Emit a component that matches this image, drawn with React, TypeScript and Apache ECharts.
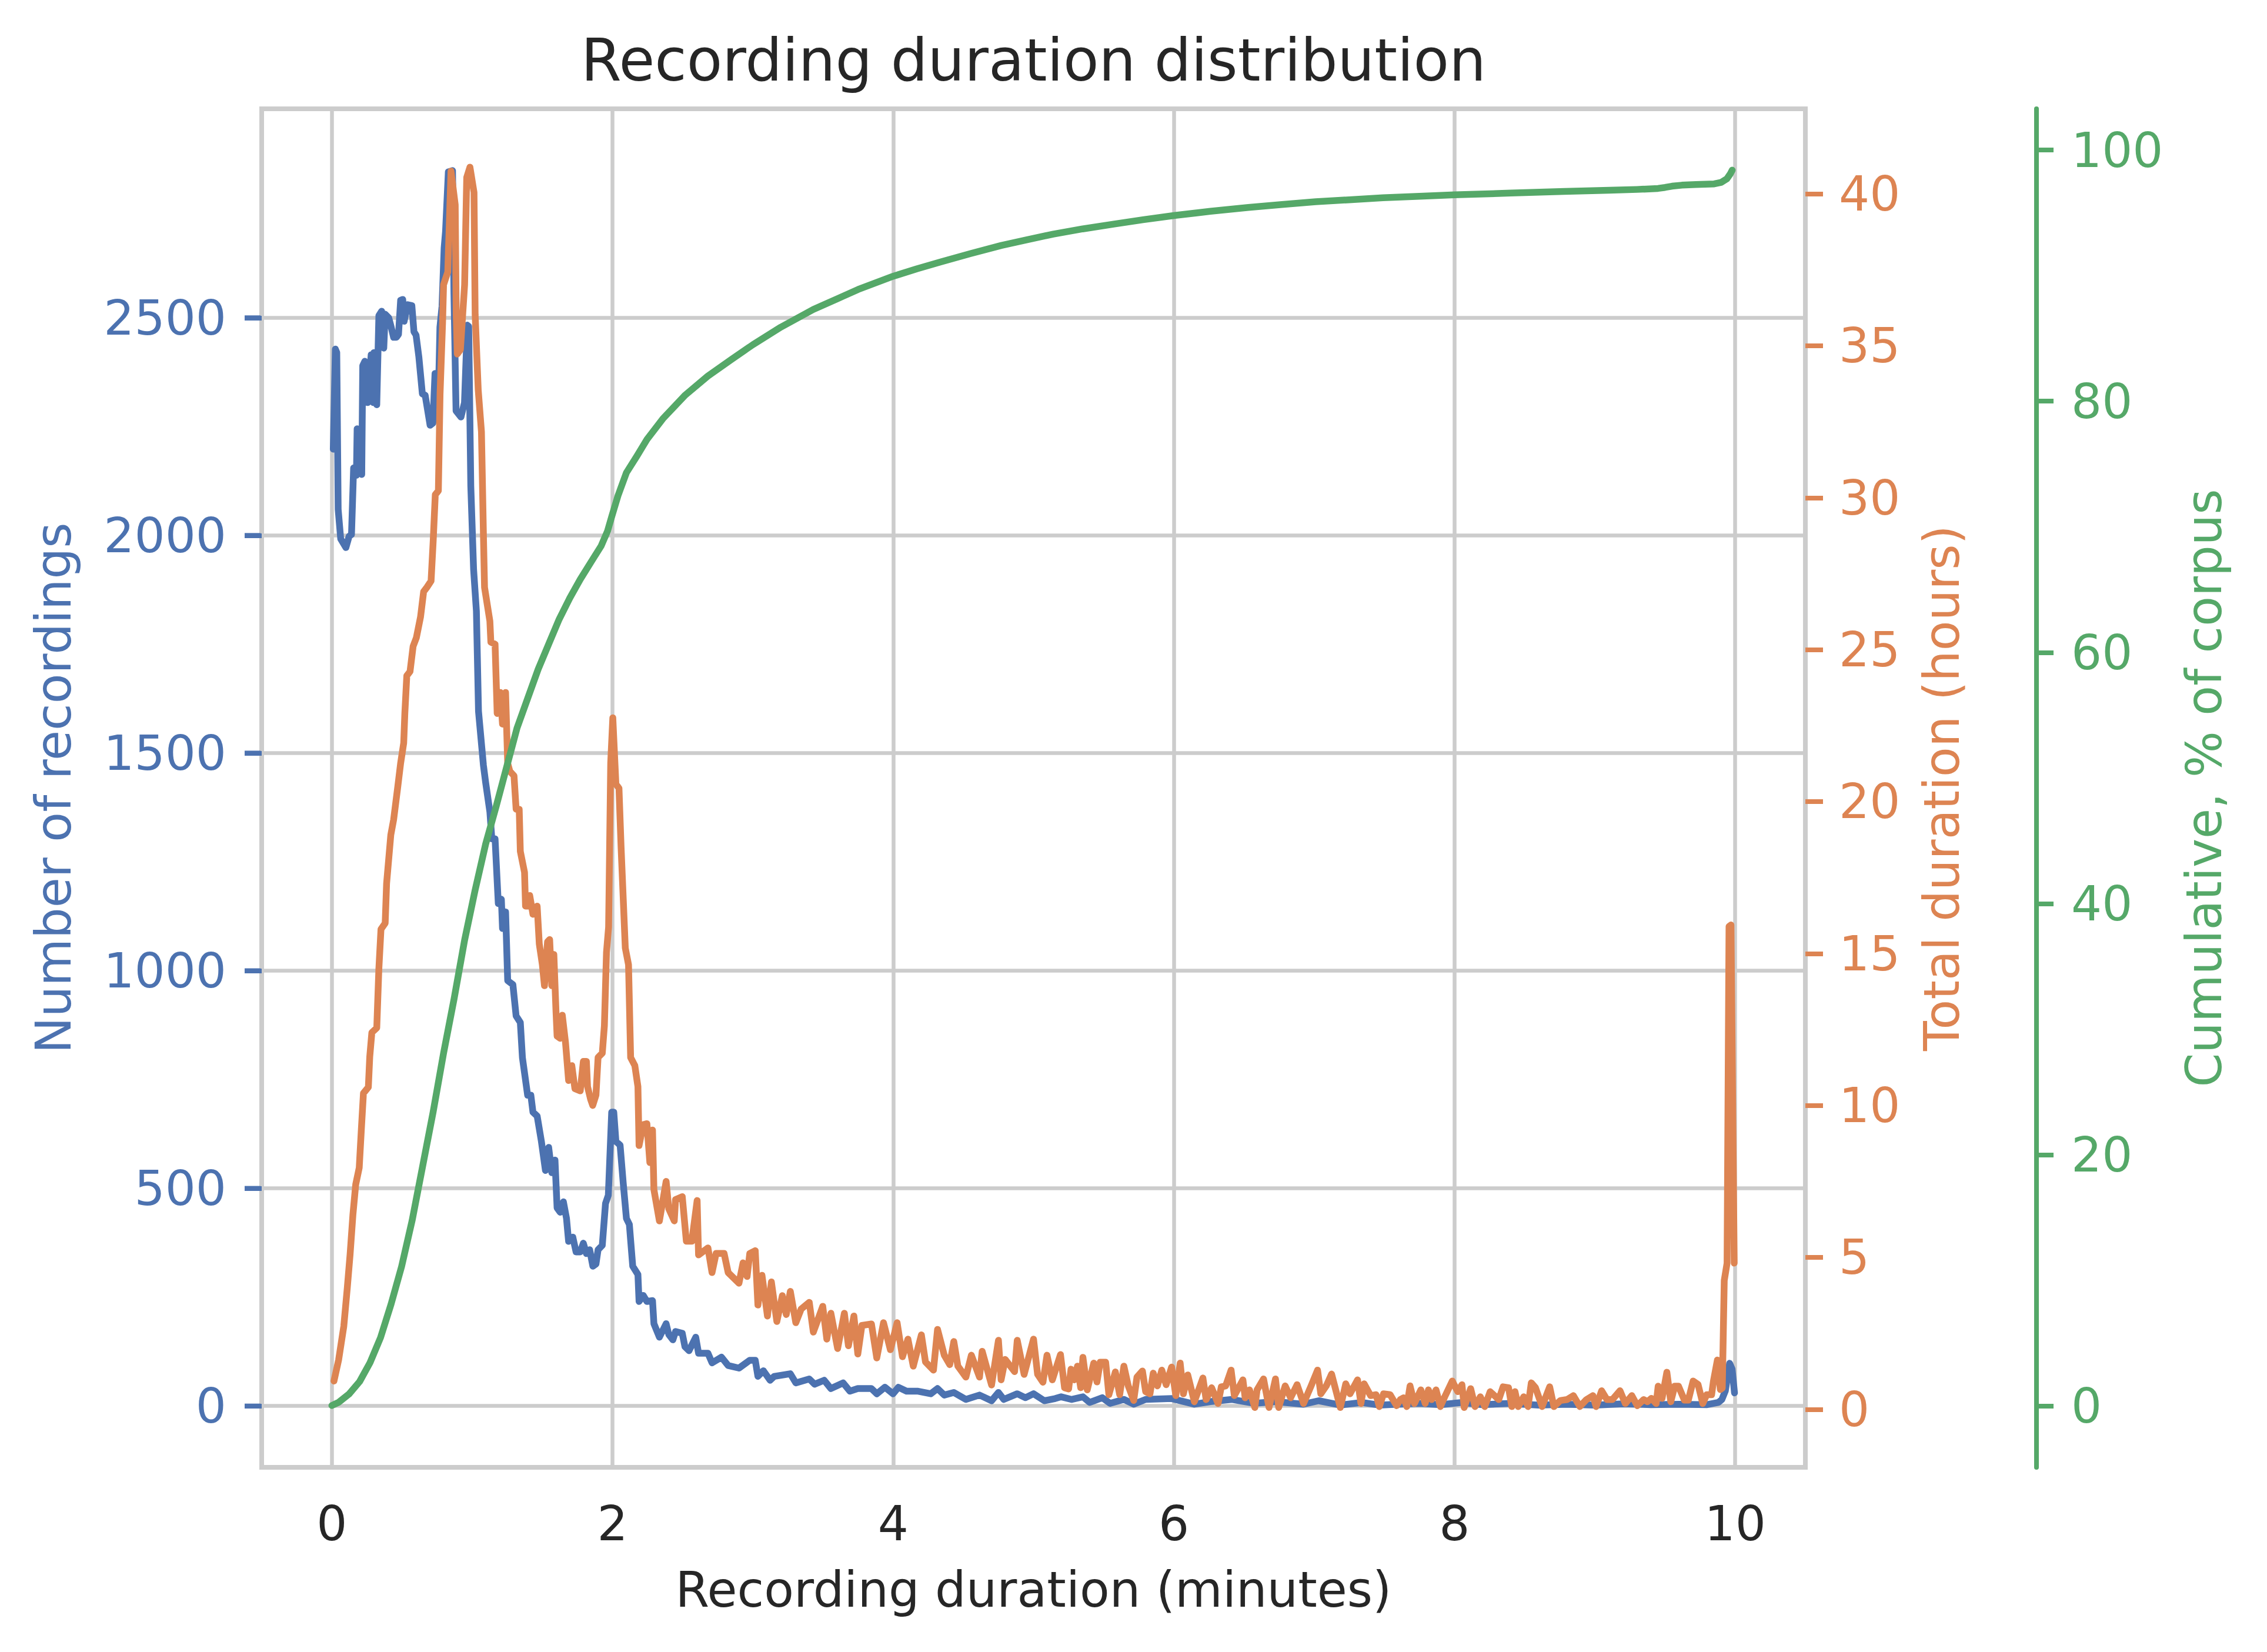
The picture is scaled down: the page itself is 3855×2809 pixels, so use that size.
import React, { useEffect, useRef } from 'react';
import * as echarts from 'echarts';

const BLUE = '#4c72b0';
const ORANGE = '#dd8452';
const GREEN = '#55a868';
const GRID_GREY = '#cccccc';
const TEXT_DARK = '#262626';
const FONT = 'DejaVu Sans';

// [minutes, number of recordings]
const countSeries: [number, number][] = [
  [0.01, 2198], [0.025, 2428], [0.035, 2420], [0.045, 2060], [0.063, 1992], [0.1, 1972], [0.123, 1998], [0.14, 2002],
  [0.155, 2155], [0.175, 2138], [0.18, 2245], [0.2, 2242], [0.213, 2140], [0.22, 2390], [0.235, 2400], [0.255, 2305],
  [0.28, 2415], [0.295, 2305], [0.3, 2420], [0.32, 2300], [0.335, 2505], [0.355, 2515], [0.37, 2430], [0.38, 2508],
  [0.405, 2500], [0.42, 2482], [0.44, 2455], [0.46, 2455], [0.475, 2462], [0.49, 2540], [0.505, 2542], [0.515, 2492],
  [0.54, 2530], [0.57, 2528], [0.585, 2468], [0.6, 2460], [0.62, 2410], [0.645, 2325], [0.665, 2322], [0.7, 2253],
  [0.72, 2258], [0.735, 2372], [0.75, 2370], [0.76, 2332], [0.77, 2478], [0.785, 2526], [0.8, 2660], [0.81, 2698],
  [0.83, 2835], [0.86, 2838], [0.87, 2555], [0.885, 2286], [0.92, 2272], [0.945, 2305], [0.965, 2483], [0.975, 2480],
  [0.99, 2114], [1.01, 1922], [1.03, 1826], [1.045, 1596], [1.08, 1472], [1.096, 1432], [1.126, 1365], [1.14, 1303],
  [1.163, 1303], [1.186, 1154], [1.208, 1164], [1.216, 1097], [1.238, 1135], [1.253, 977], [1.29, 968], [1.313, 896],
  [1.343, 881], [1.358, 800], [1.395, 714], [1.418, 714], [1.433, 675], [1.463, 666], [1.493, 608], [1.522, 541],
  [1.545, 594], [1.567, 536], [1.59, 565], [1.605, 455], [1.627, 445], [1.65, 469], [1.672, 431], [1.687, 378],
  [1.717, 388], [1.74, 354], [1.77, 354], [1.792, 374], [1.814, 350], [1.837, 359], [1.86, 321], [1.882, 326],
  [1.897, 359], [1.927, 369], [1.95, 465], [1.97, 484], [1.994, 675], [2.009, 675], [2.024, 608], [2.054, 599],
  [2.076, 513], [2.099, 431], [2.12, 417], [2.144, 321], [2.181, 302], [2.189, 240], [2.219, 254], [2.245, 240],
  [2.285, 242], [2.295, 189], [2.334, 158], [2.382, 189], [2.401, 164], [2.43, 152], [2.449, 171], [2.497, 167],
  [2.516, 136], [2.545, 127], [2.593, 158], [2.613, 121], [2.68, 121], [2.709, 99], [2.776, 112], [2.824, 93],
  [2.901, 87], [2.978, 105], [3.017, 105], [3.036, 68], [3.075, 81], [3.123, 59], [3.152, 68], [3.21, 71],
  [3.267, 74], [3.306, 53], [3.402, 62], [3.44, 50], [3.508, 59], [3.556, 40], [3.643, 53], [3.691, 34],
  [3.748, 40], [3.845, 40], [3.883, 28], [3.941, 43], [3.999, 28], [4.037, 43], [4.095, 34], [4.172, 34],
  [4.268, 28], [4.316, 40], [4.364, 25], [4.432, 31], [4.518, 15], [4.615, 25], [4.701, 12], [4.75, 31],
  [4.788, 15], [4.884, 28], [4.942, 19], [5.0, 28], [5.077, 12], [5.154, 17], [5.197, 21], [5.27, 15],
  [5.352, 21], [5.4, 8], [5.49, 19], [5.545, 6], [5.644, 15], [5.714, 4], [5.799, 15], [5.984, 17],
  [6.146, 4], [6.26, 10], [6.415, 15], [6.57, 6], [6.724, 10], [6.924, 4], [7.032, 12], [7.186, 2],
  [7.34, 8], [7.464, 2], [7.587, 4], [7.75, 6], [7.9, 3], [8.05, 8], [8.2, 3], [8.4, 6],
  [8.6, 2], [8.8, 4], [9.0, 2], [9.2, 5], [9.4, 3], [9.6, 4], [9.8, 3], [9.88, 8],
  [9.905, 15], [9.93, 35], [9.96, 98], [9.978, 85], [9.995, 30],
];

// [minutes, total duration in hours]
const hoursSeries: [number, number][] = [
  [0.015, 0.93], [0.048, 1.62], [0.085, 2.73], [0.11, 4.0], [0.13, 5.1], [0.15, 6.4], [0.17, 7.4], [0.195, 7.95],
  [0.21, 9.2], [0.225, 10.4], [0.26, 10.6], [0.27, 11.6], [0.285, 12.4], [0.32, 12.55], [0.335, 14.5], [0.35, 15.8],
  [0.38, 16.0], [0.39, 17.3], [0.42, 18.9], [0.44, 19.4], [0.47, 20.5], [0.49, 21.26], [0.512, 21.93], [0.52, 22.9],
  [0.534, 24.14], [0.557, 24.28], [0.579, 25.11], [0.602, 25.39], [0.632, 26.08], [0.654, 26.91], [0.677, 27.05], [0.707, 27.26],
  [0.722, 28.57], [0.737, 30.1], [0.759, 30.23], [0.771, 33.41], [0.789, 35.77], [0.796, 37.01], [0.826, 37.43], [0.849, 40.75],
  [0.879, 39.64], [0.886, 36.04], [0.894, 34.73], [0.916, 34.87], [0.946, 37.01], [0.961, 40.54], [0.984, 40.88], [1.013, 40.05],
  [1.021, 36.04], [1.043, 33.55], [1.066, 32.17], [1.081, 28.57], [1.088, 27.05], [1.126, 25.94], [1.133, 25.25], [1.163, 25.18],
  [1.178, 22.9], [1.2, 23.59], [1.216, 22.55], [1.238, 23.59], [1.253, 21.26], [1.268, 21.0], [1.298, 20.85], [1.313, 19.75],
  [1.335, 19.75], [1.343, 18.36], [1.373, 17.67], [1.38, 16.56], [1.395, 16.56], [1.41, 16.91], [1.433, 16.29], [1.463, 16.56],
  [1.478, 15.32], [1.5, 14.63], [1.515, 13.94], [1.537, 15.39], [1.552, 15.46], [1.567, 13.94], [1.582, 14.97], [1.597, 13.11],
  [1.605, 12.28], [1.627, 12.21], [1.642, 12.97], [1.665, 12.07], [1.687, 10.82], [1.71, 11.31], [1.732, 10.55], [1.77, 10.48],
  [1.792, 11.45], [1.814, 11.45], [1.822, 10.62], [1.844, 10.2], [1.859, 10.0], [1.882, 10.34], [1.897, 11.58], [1.927, 11.72],
  [1.942, 12.62], [1.957, 15.04], [1.972, 15.87], [1.987, 21.27], [2.002, 22.76], [2.024, 20.58], [2.046, 20.44], [2.061, 18.5],
  [2.091, 15.18], [2.114, 14.63], [2.129, 11.58], [2.159, 11.31], [2.181, 10.62], [2.189, 8.68], [2.219, 9.37], [2.245, 9.4],
  [2.266, 8.12], [2.285, 9.19], [2.295, 7.23], [2.334, 6.2], [2.382, 7.5], [2.401, 6.6], [2.44, 6.2], [2.449, 6.9],
  [2.497, 7.0], [2.526, 5.53], [2.565, 5.53], [2.603, 6.87], [2.613, 5.08], [2.68, 5.31], [2.709, 4.5], [2.738, 5.13],
  [2.795, 5.13], [2.824, 4.5], [2.901, 4.15], [2.93, 4.82], [2.959, 4.37], [2.978, 5.13], [3.017, 5.22], [3.036, 3.43],
  [3.065, 4.41], [3.104, 3.07], [3.132, 4.19], [3.171, 2.89], [3.21, 3.74], [3.238, 3.12], [3.267, 3.88], [3.306, 2.85],
  [3.344, 3.3], [3.402, 3.52], [3.431, 2.54], [3.498, 3.39], [3.527, 2.31], [3.556, 3.16], [3.604, 2.0], [3.652, 3.16],
  [3.681, 2.09], [3.72, 3.07], [3.748, 1.82], [3.777, 2.76], [3.845, 2.81], [3.883, 1.69], [3.931, 2.85], [3.98, 1.96],
  [4.028, 2.85], [4.066, 1.73], [4.105, 2.31], [4.143, 1.42], [4.201, 2.45], [4.23, 1.56], [4.287, 1.29], [4.316, 2.63],
  [4.364, 1.78], [4.403, 1.47], [4.432, 2.23], [4.461, 1.42], [4.518, 1.06], [4.557, 1.78], [4.615, 1.06], [4.634, 1.91],
  [4.701, 0.8], [4.75, 2.27], [4.769, 0.97], [4.798, 1.64], [4.865, 1.24], [4.884, 2.27], [4.933, 1.15], [5.0, 2.31],
  [5.029, 1.15], [5.067, 0.89], [5.096, 1.78], [5.134, 0.97], [5.192, 1.8], [5.221, 0.71], [5.25, 0.67], [5.267, 1.32],
  [5.29, 0.97], [5.313, 1.42], [5.336, 0.71], [5.352, 1.71], [5.383, 0.64], [5.429, 1.52], [5.452, 0.9], [5.475, 1.55],
  [5.514, 1.55], [5.537, 0.48], [5.583, 1.23], [5.614, 0.48], [5.644, 1.42], [5.675, 0.77], [5.714, 0.29], [5.737, 1.06],
  [5.776, 1.26], [5.799, 0.58], [5.83, 0.51], [5.853, 1.19], [5.883, 0.77], [5.914, 1.29], [5.945, 0.81], [5.984, 1.39],
  [6.014, 0.45], [6.045, 1.52], [6.068, 0.51], [6.099, 1.13], [6.146, 0.25], [6.207, 1.03], [6.23, 0.32], [6.269, 0.71],
  [6.315, 0.19], [6.338, 0.74], [6.369, 0.77], [6.408, 1.29], [6.431, 0.45], [6.492, 0.97], [6.508, 0.38], [6.539, 0.64],
  [6.577, 0.06], [6.593, 0.64], [6.639, 1.0], [6.678, 0.06], [6.724, 1.0], [6.747, 0.06], [6.793, 0.77], [6.832, 0.38],
  [6.878, 0.81], [6.924, 0.19], [6.978, 0.77], [7.024, 1.29], [7.047, 0.51], [7.086, 0.77], [7.124, 1.16], [7.186, 0.06],
  [7.225, 0.84], [7.255, 0.51], [7.309, 0.97], [7.333, 0.19], [7.356, 0.84], [7.402, 0.45], [7.441, 0.48], [7.464, 0.09],
  [7.494, 0.51], [7.541, 0.48], [7.587, 0.12], [7.614, 0.32], [7.637, 0.38], [7.66, 0.09], [7.683, 0.77], [7.714, 0.19],
  [7.76, 0.64], [7.791, 0.19], [7.814, 0.64], [7.837, 0.32], [7.868, 0.64], [7.899, 0.09], [7.93, 0.41], [7.984, 0.93],
  [8.023, 0.58], [8.053, 0.81], [8.069, 0.06], [8.115, 0.68], [8.146, 0.09], [8.184, 0.41], [8.215, 0.09], [8.254, 0.58],
  [8.315, 0.32], [8.346, 0.74], [8.385, 0.71], [8.408, 0.09], [8.431, 0.58], [8.454, 0.09], [8.493, 0.41], [8.524, 0.09],
  [8.547, 0.87], [8.577, 0.71], [8.624, 0.09], [8.678, 0.74], [8.708, 0.09], [8.755, 0.29], [8.801, 0.32], [8.847, 0.45],
  [8.893, 0.09], [8.94, 0.32], [8.986, 0.45], [9.009, 0.09], [9.048, 0.61], [9.086, 0.32], [9.125, 0.32], [9.179, 0.61],
  [9.217, 0.19], [9.263, 0.45], [9.302, 0.12], [9.348, 0.32], [9.375, 0.25], [9.403, 0.36], [9.437, 0.19], [9.451, 0.76],
  [9.479, 0.36], [9.513, 1.22], [9.541, 0.25], [9.569, 0.76], [9.596, 0.76], [9.638, 0.3], [9.666, 0.3], [9.7, 0.93],
  [9.735, 0.82], [9.769, 0.19], [9.797, 0.48], [9.832, 0.48], [9.845, 0.93], [9.873, 1.62], [9.894, 0.65], [9.908, 0.7],
  [9.922, 4.24], [9.942, 4.81], [9.956, 15.89], [9.97, 15.94], [9.993, 4.81],
];

// [minutes, cumulative % of corpus]
const cumulativeSeries: [number, number][] = [
  [0, 0.05], [0.048, 0.3], [0.123, 0.97], [0.198, 1.96], [0.272, 3.46], [0.347, 5.46], [0.422, 8.12], [0.497, 11.12],
  [0.572, 14.78], [0.647, 19.11], [0.722, 23.44], [0.796, 28.1], [0.871, 32.43], [0.946, 37.1], [1.021, 41.09], [1.096, 44.75],
  [1.171, 47.75], [1.246, 50.9], [1.32, 54.0], [1.395, 56.33], [1.47, 58.66], [1.545, 60.66], [1.62, 62.65], [1.695, 64.32],
  [1.77, 65.82], [1.844, 67.15], [1.919, 68.48], [1.964, 69.65], [1.994, 70.81], [2.039, 72.48], [2.099, 74.31], [2.174, 75.64],
  [2.246, 76.97], [2.358, 78.6], [2.519, 80.5], [2.679, 82.0], [2.85, 83.35], [3.0, 84.5], [3.2, 85.9], [3.43, 87.3],
  [3.6, 88.15], [3.75, 88.9], [4.0, 89.95], [4.17, 90.55], [4.34, 91.1], [4.55, 91.75], [4.77, 92.4], [4.95, 92.85],
  [5.14, 93.3], [5.35, 93.72], [5.57, 94.1], [5.78, 94.45], [6.0, 94.78], [6.26, 95.12], [6.53, 95.43], [6.77, 95.66],
  [7.01, 95.88], [7.25, 96.04], [7.49, 96.2], [7.75, 96.32], [8.0, 96.43], [8.4, 96.57], [8.78, 96.7], [9.1, 96.8],
  [9.3, 96.86], [9.45, 96.94], [9.5, 97.02], [9.55, 97.12], [9.62, 97.2], [9.72, 97.25], [9.85, 97.3], [9.9, 97.42],
  [9.94, 97.7], [9.965, 98.1], [9.979, 98.4],
];

const X_MIN = -0.5;
const X_MAX = 10.5;
const xTicks = [0, 2, 4, 6, 8, 10];
const countTicks = [0, 500, 1000, 1500, 2000, 2500];
const hoursTicks = [0, 5, 10, 15, 20, 25, 30, 35, 40];
const cumulativeTicks = [0, 20, 40, 60, 80, 100];

const TITLE = 'Recording duration distribution';
const X_NAME = 'Recording duration (minutes)';
const COUNT_NAME = 'Number of recordings';
const HOURS_NAME = 'Total duration (hours)';
const CUM_NAME = 'Cumulative, % of corpus';

export default function App() {
  const ref = useRef<HTMLDivElement>(null);

  useEffect(() => {
    document.body.style.margin = '0';
    if (!ref.current) return;
    const chart = echarts.init(ref.current, undefined, { renderer: 'svg' });

    const tickFont = 82;
    const nameFont = 83;
    const tickLen = 29;
    const fmt = (v: number) => String(v);
    const lineStyle = (color: string) => ({ color, width: 11.5, cap: 'round', join: 'round' });

    const nameTexts: any[] = [
      {
        type: 'text',
        x: 1757.5,
        y: 2703,
        silent: true,
        style: { text: X_NAME, fill: TEXT_DARK, fontSize: nameFont, fontFamily: FONT, align: 'center', verticalAlign: 'middle' },
      },
      {
        type: 'text',
        x: 91,
        y: 1340,
        rotation: Math.PI / 2,
        silent: true,
        style: { text: COUNT_NAME, fill: BLUE, fontSize: nameFont, fontFamily: FONT, align: 'center', verticalAlign: 'middle' },
      },
      {
        type: 'text',
        x: 3302,
        y: 1340,
        rotation: Math.PI / 2,
        silent: true,
        style: { text: HOURS_NAME, fill: ORANGE, fontSize: nameFont, fontFamily: FONT, align: 'center', verticalAlign: 'middle' },
      },
      {
        type: 'text',
        x: 3748,
        y: 1340,
        rotation: Math.PI / 2,
        silent: true,
        style: { text: CUM_NAME, fill: GREEN, fontSize: nameFont, fontFamily: FONT, align: 'center', verticalAlign: 'middle' },
      },
    ];

    const option: any = {
      animation: false,
      backgroundColor: '#ffffff',
      textStyle: { fontFamily: FONT },
      title: {
        text: TITLE,
        left: 1757.5,
        top: 53,
        padding: 0,
        textAlign: 'center',
        textVerticalAlign: 'top',
        textStyle: { fontSize: 99, lineHeight: 99, fontWeight: 'normal', color: TEXT_DARK, fontFamily: FONT },
      },
      grid: {
        left: 445,
        right: 785,
        top: 185,
        bottom: 314,
        show: true,
        borderColor: GRID_GREY,
        borderWidth: 8,
        backgroundColor: 'rgba(0,0,0,0)',
      },
      xAxis: {
        type: 'value',
        position: 'bottom',
        min: X_MIN,
        max: X_MAX,
        splitNumber: 5,
        axisLine: { show: false, onZero: false },
        axisTick: { show: false, customValues: xTicks },
        axisLabel: {
          customValues: xTicks,
          formatter: fmt,
          fontSize: tickFont,
          lineHeight: tickFont,
          color: TEXT_DARK,
          margin: 54,
          fontFamily: FONT,
        },
        splitLine: { show: true, lineStyle: { color: GRID_GREY, width: 6.5 } },
      },
      yAxis: [
        {
          type: 'value',
          position: 'left',
          min: -141,
          max: 2980,
          splitNumber: 5,
          axisLine: { show: false, onZero: false },
          axisTick: { show: true, length: tickLen, customValues: countTicks, lineStyle: { color: BLUE, width: 8 } },
          axisLabel: { customValues: countTicks, formatter: fmt, fontSize: tickFont, color: BLUE, margin: 60, fontFamily: FONT },
          splitLine: { show: true, lineStyle: { color: GRID_GREY, width: 6.5 } },
        },
        {
          type: 'value',
          position: 'right',
          min: -1.91,
          max: 42.8,
          splitNumber: 9,
          axisLine: { show: false, onZero: false },
          axisTick: { show: true, length: 30, customValues: hoursTicks, lineStyle: { color: ORANGE, width: 8 } },
          axisLabel: { customValues: hoursTicks, formatter: fmt, fontSize: tickFont, color: ORANGE, margin: 57, fontFamily: FONT },
          splitLine: { show: false },
        },
        {
          type: 'value',
          position: 'right',
          offset: 393,
          min: -4.87,
          max: 103.28,
          splitNumber: 5,
          axisLine: { show: true, onZero: false, lineStyle: { color: GREEN, width: 8 } },
          axisTick: { show: true, length: tickLen, customValues: cumulativeTicks, lineStyle: { color: GREEN, width: 8 } },
          axisLabel: { customValues: cumulativeTicks, formatter: fmt, fontSize: tickFont, color: GREEN, margin: 59, fontFamily: FONT },
          splitLine: { show: false },
        },
      ],
      graphic: nameTexts,
      series: [
        {
          name: COUNT_NAME,
          type: 'line',
          yAxisIndex: 0,
          data: countSeries,
          showSymbol: false,
          symbol: 'none',
          lineStyle: lineStyle(BLUE),
          z: 2,
        },
        {
          name: HOURS_NAME,
          type: 'line',
          yAxisIndex: 1,
          data: hoursSeries,
          showSymbol: false,
          symbol: 'none',
          lineStyle: lineStyle(ORANGE),
          z: 3,
        },
        {
          name: CUM_NAME,
          type: 'line',
          yAxisIndex: 2,
          data: cumulativeSeries,
          showSymbol: false,
          symbol: 'none',
          lineStyle: lineStyle(GREEN),
          z: 4,
        },
      ],
    };

    chart.setOption(option);

    // Left-axis tick marks, positioned through the chart's own scales.
    const tickMarks = countTicks.map((v) => {
      const p = chart.convertToPixel({ xAxisIndex: 0, yAxisIndex: 0 }, [X_MIN, v]) as number[];
      return {
        type: 'line',
        z: 100,
        silent: true,
        shape: { x1: p[0] - tickLen, y1: p[1], x2: p[0] - 2, y2: p[1] },
        style: { stroke: BLUE, lineWidth: 8, lineCap: 'butt' },
      };
    });
    chart.setOption({ graphic: [...nameTexts, ...tickMarks] });

    return () => chart.dispose();
  }, []);

  return <div ref={ref} style={{ width: 3855, height: 2809 }} />;
}
